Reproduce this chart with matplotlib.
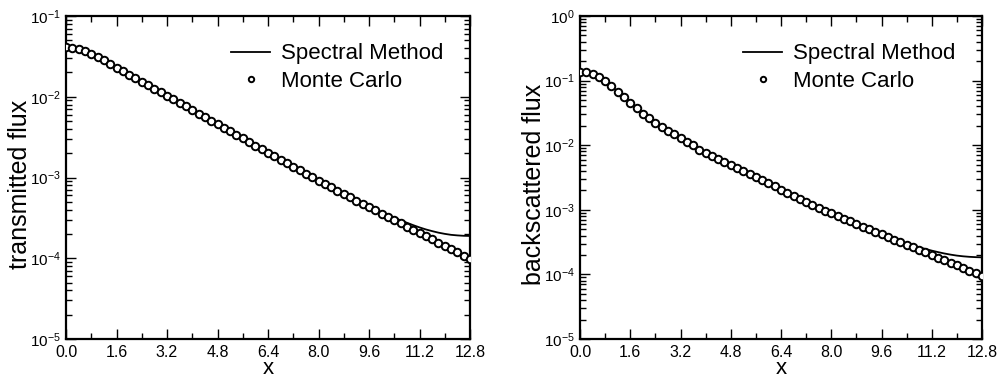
import matplotlib
matplotlib.use("Agg")
import matplotlib.pyplot as plt
import numpy as np

plt.rcParams['font.family'] = ['Liberation Sans', 'DejaVu Sans']
plt.rcParams['mathtext.fontset'] = 'custom'
plt.rcParams['mathtext.rm'] = 'Liberation Sans'
plt.rcParams['mathtext.it'] = 'Liberation Sans'
plt.rcParams['mathtext.default'] = 'regular'
plt.rcParams['axes.unicode_minus'] = False

# ---- data (x grid and log10 of flux values) ----
x_vals = [round(0.2 * i, 1) for i in range(65)]

left_mc_log10 = [
    -1.387, -1.395, -1.410, -1.435, -1.470, -1.510, -1.550, -1.595, -1.640, -1.685,
    -1.730, -1.773, -1.816, -1.860, -1.903, -1.946, -1.990, -2.033, -2.077, -2.120,
    -2.164, -2.208, -2.252, -2.296, -2.340, -2.384, -2.428, -2.472, -2.516, -2.560,
    -2.604, -2.648, -2.692, -2.736, -2.780, -2.823, -2.866, -2.909, -2.952, -2.995,
    -3.038, -3.080, -3.122, -3.163, -3.204, -3.245, -3.286, -3.327, -3.367, -3.407,
    -3.447, -3.487, -3.527, -3.567, -3.607, -3.647, -3.687, -3.727, -3.767, -3.807,
    -3.847, -3.887, -3.927, -3.967, -4.010]

left_spec_log10 = [
    -1.387, -1.395, -1.410, -1.435, -1.470, -1.510, -1.550, -1.595, -1.640, -1.685,
    -1.730, -1.773, -1.816, -1.860, -1.903, -1.946, -1.990, -2.033, -2.077, -2.120,
    -2.164, -2.208, -2.252, -2.296, -2.340, -2.384, -2.428, -2.472, -2.516, -2.560,
    -2.604, -2.648, -2.692, -2.736, -2.780, -2.823, -2.866, -2.909, -2.952, -2.995,
    -3.038, -3.080, -3.122, -3.163, -3.204, -3.245, -3.286, -3.325, -3.360, -3.397,
    -3.432, -3.466, -3.498, -3.530, -3.560, -3.590, -3.618, -3.643, -3.664, -3.683,
    -3.698, -3.710, -3.717, -3.722, -3.724]

right_mc_log10 = [
    -0.860, -0.868, -0.895, -0.940, -1.005, -1.085, -1.170, -1.255, -1.340, -1.425,
    -1.510, -1.585, -1.655, -1.720, -1.775, -1.830, -1.888, -1.945, -2.000, -2.068,
    -2.116, -2.163, -2.211, -2.258, -2.306, -2.354, -2.401, -2.449, -2.496, -2.544,
    -2.592, -2.639, -2.687, -2.734, -2.782, -2.830, -2.876, -2.922, -2.967, -3.012,
    -3.056, -3.100, -3.140, -3.180, -3.220, -3.260, -3.300, -3.340, -3.380, -3.420,
    -3.460, -3.500, -3.540, -3.580, -3.620, -3.660, -3.700, -3.740, -3.780, -3.820,
    -3.860, -3.900, -3.940, -3.980, -4.020]

right_spec_log10 = [
    -0.860, -0.868, -0.895, -0.940, -1.005, -1.085, -1.170, -1.255, -1.340, -1.425,
    -1.510, -1.585, -1.655, -1.720, -1.775, -1.830, -1.888, -1.945, -2.000, -2.068,
    -2.116, -2.163, -2.211, -2.258, -2.306, -2.354, -2.401, -2.449, -2.496, -2.544,
    -2.592, -2.639, -2.687, -2.734, -2.782, -2.830, -2.876, -2.922, -2.967, -3.012,
    -3.056, -3.100, -3.140, -3.180, -3.220, -3.260, -3.300, -3.340, -3.380, -3.420,
    -3.455, -3.490, -3.522, -3.552, -3.580, -3.607, -3.632, -3.655, -3.676, -3.694,
    -3.709, -3.720, -3.728, -3.733, -3.736]

x_ticks = [0.0, 1.6, 3.2, 4.8, 6.4, 8.0, 9.6, 11.2, 12.8]
x_tick_labels = ["0.0", "1.6", "3.2", "4.8", "6.4", "8.0", "9.6", "11.2", "12.8"]
left_ylim = (1e-5, 1e-1)
right_ylim = (1e-5, 1e0)
left_ylabel = "transmitted flux"
right_ylabel = "backscattered flux"
legend_labels = ["Spectral Method", "Monte Carlo"]

W, H = 1002, 378
AX_BOTTOM, AX_TOP = 339, 16
AX_H = AX_BOTTOM - AX_TOP
fig = plt.figure(figsize=(W / 100, H / 100), dpi=100)
ax1 = fig.add_axes([66 / W, (H - AX_BOTTOM) / H, 404 / W, AX_H / H])
ax2 = fig.add_axes([580 / W, (H - AX_BOTTOM) / H, 402 / W, AX_H / H])

x = np.array(x_vals)
for ax, mc, sp, ylim, ylab, axw in [
        (ax1, left_mc_log10, left_spec_log10, left_ylim, left_ylabel, 404),
        (ax2, right_mc_log10, right_spec_log10, right_ylim, right_ylabel, 402)]:
    ax.plot(x, 10 ** np.array(sp), color='black', lw=1.3, label=legend_labels[0], zorder=2)
    ax.plot(x, 10 ** np.array(mc), linestyle='none', marker='o', ms=5.4, mew=1.4,
            mfc='white', mec='black', label=legend_labels[1], zorder=3)
    ax.set_yscale('log')
    ax.set_ylim(*ylim)
    ax.set_xlim(0, 12.8)
    ax.set_xticks(x_ticks)
    ax.set_xticklabels(x_tick_labels)
    ax.set_xticks(np.arange(0.8, 12.8, 1.6), minor=True)
    ax.yaxis.set_minor_locator(matplotlib.ticker.LogLocator(base=10, subs=np.arange(2, 10)))
    ax.yaxis.set_minor_formatter(matplotlib.ticker.NullFormatter())
    ax.tick_params(which='both', direction='in', top=True, right=True)
    ax.tick_params(axis='x', labelsize=11.5)
    ax.tick_params(axis='y', labelsize=11)
    ax.tick_params(which='major', length=7.5, width=1.0)
    ax.tick_params(axis='x', which='major', pad=4.5)
    ax.tick_params(axis='y', which='major', pad=4.0)
    ax.tick_params(which='minor', length=4.0, width=1.0)
    for s in ax.spines.values():
        s.set_linewidth(1.6)
    ax.set_xlabel("x", fontsize=16)
    ax.xaxis.label.set_va('baseline')
    ax.xaxis.set_label_coords(0.5, -(374.5 - AX_BOTTOM) / AX_H)
    ax.set_ylabel(ylab, fontsize=18)
    ax.yaxis.set_label_coords(-34 / axw, (AX_BOTTOM - 184) / AX_H)
    leg = ax.legend(loc='upper right', bbox_to_anchor=(0.935, 0.915), frameon=False,
                    fontsize=16, handlelength=1.75, handletextpad=0.5,
                    labelspacing=0.3, markerscale=0.72, borderaxespad=0.0, borderpad=0.0)

fig.savefig("out.png", dpi=100)
